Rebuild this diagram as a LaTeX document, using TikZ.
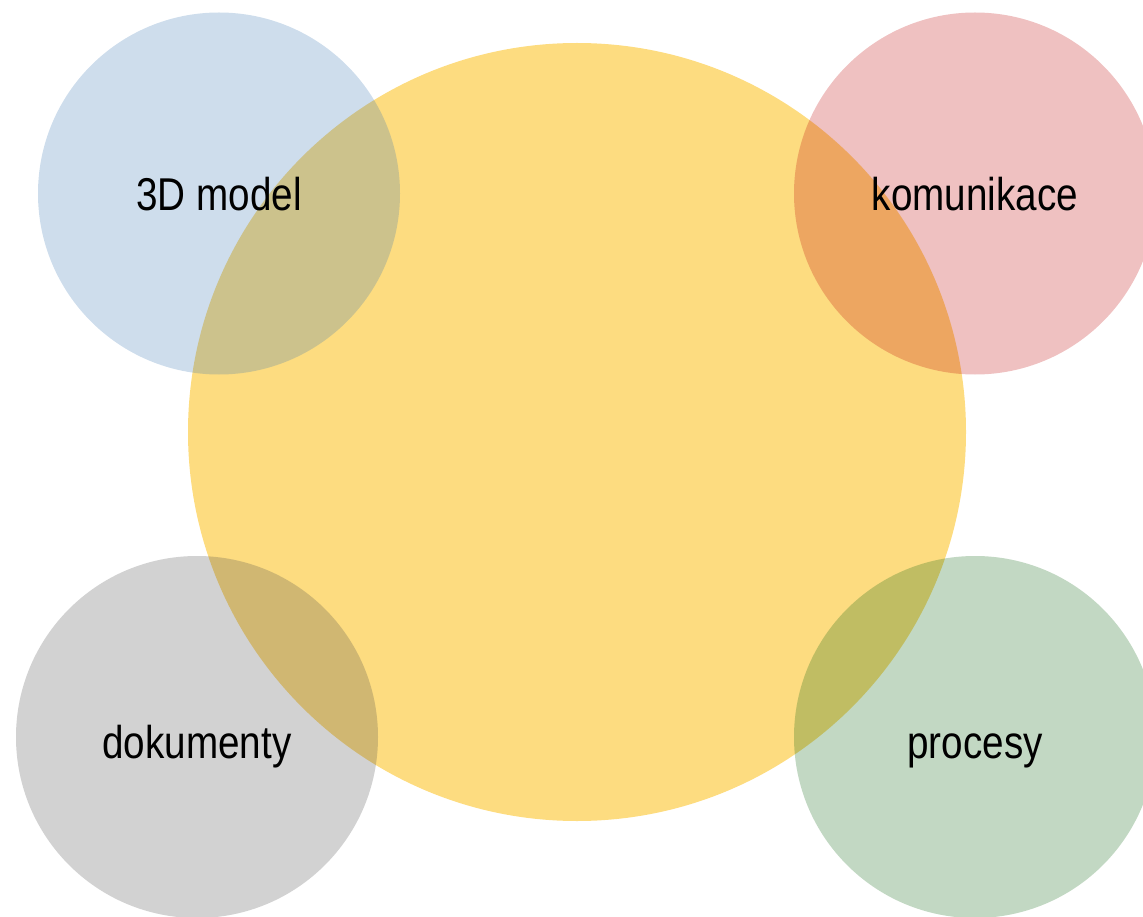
\documentclass[tikz,border=0pt]{standalone}
\usepackage{fontspec}
\setmainfont{Liberation Sans}[FakeStretch=0.84]
\definecolor{cyellow}{HTML}{FDDC80}
\definecolor{cblue}{RGB}{59,119,179}
\definecolor{cred}{RGB}{191,7,7}
\definecolor{cgray}{RGB}{75,75,75}
\definecolor{cgreen}{RGB}{11,99,15}
\begin{document}
\begin{tikzpicture}[x=1pt,y=-1pt,
  small/.style={circle,minimum size=362pt,inner sep=0pt,fill opacity=0.25},
  lbl/.style={anchor=base,inner sep=0pt,text=black,font=\fontsize{46}{50}\selectfont}]
\useasboundingbox (0,0) rectangle (1143,917);
\clip (0,0) rectangle (1143,917);
\node[circle,minimum size=778pt,inner sep=0pt,fill=cyellow] (core) at (577,432) {};
\node[small,fill=cblue] (model) at (219,193.5) {};
\node[small,fill=cred] (komu) at (975,193.5) {};
\node[small,fill=cgray] (doku) at (197,737) {};
\node[small,fill=cgreen] (proc) at (975,737) {};
\node[lbl] (tmodel) at (219,211) {3D model};
\node[lbl] (tkomu) at (975,211) {komunikace};
\node[lbl] (tdoku) at (197,758) {dokumenty};
\node[lbl] (tproc) at (975,758) {procesy};
\end{tikzpicture}
\end{document}
